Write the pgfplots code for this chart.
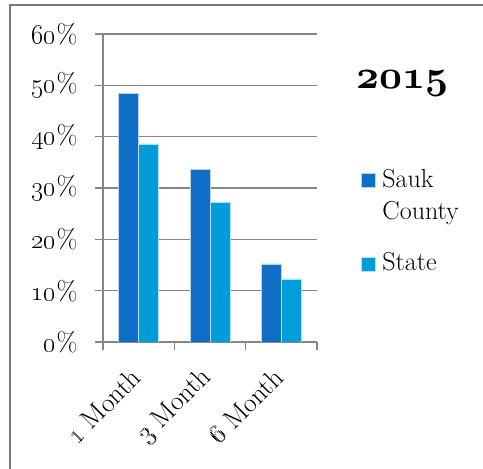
\documentclass[border=0pt]{standalone}
\usepackage{fix-cm}
\usepackage{pgfplots}
\pgfplotsset{compat=1.18}
\definecolor{sauk}{HTML}{0F6FC6}
\definecolor{state}{HTML}{009DD9}
\definecolor{gridgray}{HTML}{868686}
\newcommand{\osn}[1]{\oldstylenums{#1}}
\newcommand{\twolines}{\vtop{\hbox{Sauk}\hbox{County}}}
\begin{document}
\begin{tikzpicture}[x=1pt,y=1pt]
\useasboundingbox (0,0) rectangle (483,469);
\draw[gridgray!90!black, line width=1.8pt] (10,0) -- (10,464) -- (483,464);
\begin{axis}[
    scale only axis,
    width=214pt, height=308pt,
    at={(103pt,127pt)}, anchor=south west,
    ybar=0pt, bar width=20pt,
    xmin=-0.5, xmax=2.5,
    ymin=0, ymax=60,
    axis x line*=bottom, axis y line*=left,
    axis line style={gridgray, line width=1.6pt},
    tick style={gridgray, line width=1.6pt},
    tick align=outside, major tick length=8pt,
    ymajorgrids, grid style={gridgray, line width=1.6pt},
    ytick={0,10,...,60},
    yticklabels={\osn{0}\%,\osn{10}\%,\osn{20}\%,\osn{30}\%,\osn{40}\%,\osn{50}\%,\osn{60}\%},
    xtick={-0.5,0.5,1.5,2.5}, xticklabels={},
    extra x ticks={0,1,2},
    extra x tick labels={\osn{1} Month,\osn{3} Month,\osn{6} Month},
    extra x tick style={major tick length=0pt, grid=none,
        tick label style={xshift=0pt, yshift=-29pt, rotate=45, anchor=east}},
    tick label style={font=\fontsize{27}{30}\selectfont},
    yticklabel style={xshift=-14pt},
    legend style={draw=none, fill=none, at={(axis description cs:1.19,0.575)},
        anchor=north west, font=\fontsize{26}{32}\selectfont,
        cells={anchor=base west}, row sep=60pt,
        /tikz/every odd column/.style={column sep=5pt}},
    legend image code/.code={\fill[#1] (0pt,0pt) rectangle (14pt,14pt);},
]
\addplot[fill=sauk, draw=white!70!sauk, line width=0.6pt] coordinates {(0,48.5) (1,33.7) (2,15.2)};
\addlegendentry{\twolines}
\addplot[fill=state, draw=white!70!state, line width=0.6pt] coordinates {(0,38.6) (1,27.2) (2,12.3)};
\addlegendentry{State}
\end{axis}
\node[anchor=base west, inner sep=0pt] at (356,380) {\fontsize{40}{42}\usefont{OML}{cmm}{b}{it}2015};
\end{tikzpicture}
\end{document}
